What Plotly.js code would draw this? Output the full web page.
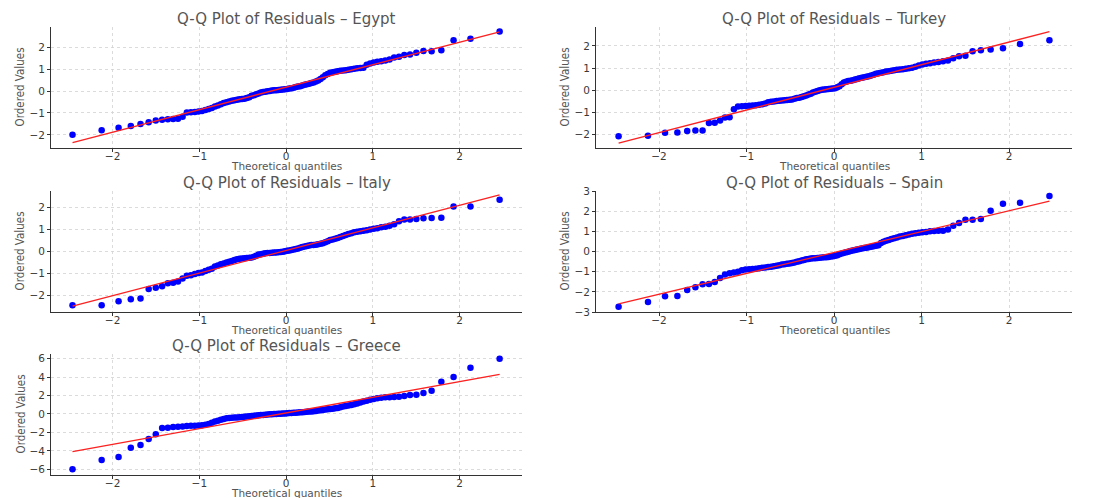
<!DOCTYPE html>
<html>
<head>
<meta charset="utf-8">
<script src="https://cdn.plot.ly/plotly-3.0.1.min.js"></script>
<style>
  html, body { margin: 0; padding: 0; background: #ffffff; }
  #chart { width: 1094px; height: 498px; }
</style>
</head>
<body>
<div id="chart"></div>
<script>
// Theoretical normal quantiles (n = 100), shared by every panel
const theoQ = [
  -2.462, -2.126, -1.931, -1.790, -1.678, -1.584, -1.502, -1.429, -1.363, -1.302,
  -1.246, -1.193, -1.144, -1.097, -1.052, -1.010, -0.969, -0.930, -0.892, -0.856,
  -0.820, -0.786, -0.752, -0.719, -0.687, -0.656, -0.625, -0.595, -0.566, -0.537,
  -0.508, -0.480, -0.452, -0.424, -0.397, -0.370, -0.344, -0.317, -0.291, -0.265,
  -0.240, -0.214, -0.188, -0.163, -0.138, -0.113, -0.088, -0.062, -0.037, -0.012,
   0.012,  0.037,  0.062,  0.088,  0.113,  0.138,  0.163,  0.188,  0.214,  0.240,
   0.265,  0.291,  0.317,  0.344,  0.370,  0.397,  0.424,  0.452,  0.480,  0.508,
   0.537,  0.566,  0.595,  0.625,  0.656,  0.687,  0.719,  0.752,  0.786,  0.820,
   0.856,  0.892,  0.930,  0.969,  1.010,  1.052,  1.097,  1.144,  1.193,  1.246,
   1.302,  1.363,  1.429,  1.502,  1.584,  1.678,  1.790,  1.931,  2.126,  2.462
];

// Ordered residuals per country
const egyptY = [
  -2.00, -1.79, -1.68, -1.60, -1.51, -1.42, -1.35, -1.31, -1.29, -1.28,
  -1.27, -1.18, -0.98, -0.97, -0.96, -0.94, -0.91, -0.87, -0.82, -0.77,
  -0.71, -0.66, -0.60, -0.55, -0.51, -0.48, -0.45, -0.42, -0.40, -0.38,
  -0.37, -0.35, -0.32, -0.28, -0.22, -0.19, -0.15, -0.11, -0.07, -0.05,
  -0.03, -0.01,  0.00,  0.02,  0.03,  0.04,  0.05,  0.06,  0.07,  0.08,
   0.09,  0.11,  0.13,  0.15,  0.18,  0.20,  0.22,  0.25,  0.28,  0.31,
   0.33,  0.36,  0.39,  0.43,  0.48,  0.55,  0.63,  0.72,  0.78,  0.83,
   0.86,  0.88,  0.90,  0.92,  0.93,  0.95,  0.97,  0.99,  1.02,  1.04,
   1.05,  1.06,  1.20,  1.26,  1.30,  1.33,  1.36,  1.39,  1.44,  1.53,
   1.56,  1.64,  1.66,  1.75,  1.82,  1.81,  1.86,  2.31,  2.38,  2.72
];
const turkeyY = [
  -2.09, -2.06, -1.93, -1.92, -1.85, -1.83, -1.83, -1.49, -1.48, -1.38,
  -1.24, -1.23, -0.86, -0.74, -0.73, -0.72, -0.71, -0.70, -0.68, -0.66,
  -0.64, -0.60, -0.55, -0.52, -0.51, -0.49, -0.48, -0.47, -0.46, -0.45,
  -0.44, -0.42, -0.39, -0.36, -0.34, -0.31, -0.28, -0.24, -0.20, -0.16,
  -0.11, -0.07, -0.04,  0.00,  0.02,  0.03,  0.04,  0.05,  0.06,  0.07,
   0.09,  0.13,  0.18,  0.27,  0.35,  0.38,  0.41,  0.43,  0.45,  0.48,
   0.51,  0.54,  0.56,  0.58,  0.61,  0.63,  0.66,  0.70,  0.74,  0.77,
   0.79,  0.81,  0.84,  0.86,  0.88,  0.90,  0.92,  0.93,  0.95,  0.97,
   0.99,  1.02,  1.06,  1.12,  1.16,  1.19,  1.22,  1.25,  1.27,  1.31,
   1.34,  1.45,  1.54,  1.56,  1.76,  1.81,  1.84,  1.90,  2.09,  2.26
];
const italyY = [
  -2.46, -2.46, -2.28, -2.19, -2.16, -1.72, -1.67, -1.60, -1.46, -1.44,
  -1.38, -1.25, -1.12, -1.10, -1.04, -1.00, -0.97, -0.91, -0.85, -0.80,
  -0.70, -0.66, -0.60, -0.56, -0.52, -0.49, -0.45, -0.41, -0.37, -0.35,
  -0.34, -0.33, -0.31, -0.30, -0.29, -0.26, -0.21, -0.16, -0.14, -0.12,
  -0.10, -0.09, -0.09, -0.08, -0.07, -0.06, -0.05, -0.04, -0.03, -0.01,
   0.01,  0.03,  0.05,  0.07,  0.09,  0.12,  0.15,  0.18,  0.21,  0.23,
   0.25,  0.27,  0.28,  0.29,  0.31,  0.33,  0.36,  0.40,  0.45,  0.50,
   0.53,  0.56,  0.59,  0.64,  0.69,  0.73,  0.77,  0.81,  0.85,  0.88,
   0.90,  0.92,  0.95,  0.98,  1.01,  1.04,  1.08,  1.11,  1.15,  1.22,
   1.36,  1.43,  1.44,  1.46,  1.49,  1.50,  1.51,  2.02,  2.03,  2.33
];
const spainY = [
  -2.74, -2.50, -2.22, -2.21, -1.91, -1.77, -1.63, -1.61, -1.51, -1.31,
  -1.14, -1.08, -1.04, -1.00, -0.93, -0.89, -0.88, -0.87, -0.85, -0.83,
  -0.81, -0.79, -0.77, -0.75, -0.73, -0.71, -0.68, -0.65, -0.63, -0.61,
  -0.59, -0.57, -0.54, -0.51, -0.48, -0.45, -0.42, -0.39, -0.37, -0.35,
  -0.34, -0.33, -0.32, -0.31, -0.30, -0.29, -0.28, -0.27, -0.25, -0.23,
  -0.21, -0.18, -0.14, -0.10, -0.07, -0.04, -0.01,  0.02,  0.05,  0.08,
   0.10,  0.13,  0.15,  0.17,  0.19,  0.21,  0.23,  0.26,  0.28,  0.31,
   0.42,  0.48,  0.53,  0.57,  0.62,  0.66,  0.70,  0.74,  0.77,  0.80,
   0.84,  0.88,  0.91,  0.93,  0.95,  0.97,  1.00,  1.02,  1.03,  1.03,
   1.09,  1.28,  1.41,  1.58,  1.58,  1.61,  2.02,  2.37,  2.42,  2.75
];
const greeceY = [
  -5.98, -4.97, -4.65, -3.64, -3.35, -2.70, -2.20, -1.51, -1.48, -1.42,
  -1.38, -1.34, -1.31, -1.28, -1.26, -1.24, -1.21, -1.16, -1.08, -0.96,
  -0.82, -0.74, -0.62, -0.54, -0.47, -0.43, -0.41, -0.39, -0.37, -0.34,
  -0.32, -0.29, -0.26, -0.24, -0.22, -0.19, -0.16, -0.14, -0.12, -0.10,
  -0.08, -0.06, -0.04, -0.03, -0.01,  0.00,  0.02,  0.03,  0.05,  0.06,
   0.08,  0.10,  0.11,  0.13,  0.14,  0.16,  0.18,  0.20,  0.22,  0.24,
   0.26,  0.28,  0.30,  0.33,  0.37,  0.41,  0.44,  0.48,  0.51,  0.54,
   0.58,  0.62,  0.66,  0.72,  0.80,  0.87,  0.92,  0.98,  1.05,  1.13,
   1.25,  1.34,  1.42,  1.54,  1.62,  1.70,  1.77,  1.80,  1.82,  1.84,
   1.86,  1.95,  2.05,  2.09,  2.27,  2.52,  3.50,  4.00,  5.00,  5.98
];

// Fitted reference lines (values at the first and last theoretical quantile)
const lineX = [-2.462, 2.462];
const egyptLine = [-2.35, 2.70];
const turkeyLine = [-2.40, 2.65];
const italyLine = [-2.50, 2.55];
const spainLine = [-2.60, 2.50];
const greeceLine = [-4.07, 4.29];

const countries = ['Egypt', 'Turkey', 'Italy', 'Spain', 'Greece'];
const xTicks = [-2, -1, 0, 1, 2];
const yTicksStd = [-2, -1, 0, 1, 2];
const yTicksSpain = [-3, -2, -1, 0, 1, 2, 3];
const yTicksGreece = [-6, -4, -2, 0, 2, 4, 6];

const W = 1094, H = 498;
const px = v => v / W;
const py = v => 1 - v / H;

const panels = [
  { name: countries[0], y: egyptY,  line: egyptLine,  yt: yTicksStd,    xr: [-2.71, 2.72], yr: [-2.60, 2.92], L: 51,  R: 522,  T: 27,  B: 148 },
  { name: countries[1], y: turkeyY, line: turkeyLine, yt: yTicksStd,    xr: [-2.72, 2.72], yr: [-2.62, 2.86], L: 596, R: 1072, T: 27,  B: 148 },
  { name: countries[2], y: italyY,  line: italyLine,  yt: yTicksStd,    xr: [-2.71, 2.72], yr: [-2.77, 2.73], L: 51,  R: 522,  T: 191, B: 312 },
  { name: countries[3], y: spainY,  line: spainLine,  yt: yTicksSpain,  xr: [-2.72, 2.72], yr: [-3.0, 3.0],   L: 596, R: 1072, T: 191, B: 312 },
  { name: countries[4], y: greeceY, line: greeceLine, yt: yTicksGreece, xr: [-2.71, 2.72], yr: [-6.6, 6.49],  L: 51,  R: 522,  T: 354, B: 475 }
];

const FONT = 'DejaVu Sans, Verdana, sans-serif';
const NARROW = 'Liberation Sans Narrow, DejaVu Sans Condensed, Arial Narrow, sans-serif';

const traces = [];
const layout = {
  width: W, height: H,
  margin: { l: 0, r: 0, t: 0, b: 0 },
  paper_bgcolor: '#ffffff',
  plot_bgcolor: '#ffffff',
  showlegend: false,
  font: { family: FONT, size: 11, color: '#444' },
  annotations: []
};

panels.forEach((p, i) => {
  const n = i + 1;
  const xa = n === 1 ? 'x' : 'x' + n;
  const ya = n === 1 ? 'y' : 'y' + n;
  traces.push({
    type: 'scatter', mode: 'markers', x: theoQ, y: p.y, xaxis: xa, yaxis: ya,
    marker: { color: '#0000ff', size: 6.5, line: { width: 0 } },
    hoverinfo: 'skip'
  });
  traces.push({
    type: 'scatter', mode: 'lines', x: lineX, y: p.line, xaxis: xa, yaxis: ya,
    line: { color: '#ff2020', width: 1.3 },
    hoverinfo: 'skip'
  });
  const axCommon = {
    showline: true, linecolor: '#333', linewidth: 1, mirror: false,
    ticks: 'outside', ticklen: 3, tickwidth: 1, tickcolor: '#333',
    showgrid: true, gridcolor: '#d2d2d2', gridwidth: 0.8, griddash: 'dot',
    zeroline: false, fixedrange: true,
    tickfont: { family: FONT, size: 10.5, color: '#3a3a3a' }
  };
  layout['xaxis' + (n === 1 ? '' : n)] = Object.assign({}, axCommon, {
    domain: [px(p.L), px(p.R)], range: p.xr, anchor: ya,
    tickmode: 'array', tickvals: xTicks, ticklabelstandoff: -5
  });
  layout['yaxis' + (n === 1 ? '' : n)] = Object.assign({}, axCommon, {
    domain: [py(p.B), py(p.T)], range: p.yr, anchor: xa,
    tickmode: 'array', tickvals: p.yt
  });
  // panel title
  layout.annotations.push({
    xref: 'paper', yref: 'paper', x: px((p.L + p.R) / 2), y: py(p.T - 8),
    xanchor: 'center', yanchor: 'middle', showarrow: false, borderpad: 0,
    text: 'Q-Q Plot of Residuals – ' + p.name,
    font: { family: FONT, size: 15, color: '#555' }
  });
  // x-axis title
  layout.annotations.push({
    xref: 'paper', yref: 'paper', x: px((p.L + p.R) / 2), y: py(p.B + 17.5),
    xanchor: 'center', yanchor: 'middle', showarrow: false, borderpad: 0,
    text: 'Theoretical quantiles',
    font: { family: FONT, size: 10.5, color: '#555' }
  });
  // y-axis title
  layout.annotations.push({
    xref: 'paper', yref: 'paper', x: px(p.L - 31), y: py((p.T + p.B) / 2),
    xanchor: 'center', yanchor: 'middle', showarrow: false, borderpad: 0,
    textangle: -90,
    text: 'Ordered Values',
    font: { family: NARROW, size: 11.5, color: '#555' }
  });
});

Plotly.newPlot('chart', traces, layout, { displayModeBar: false, staticPlot: true });
</script>
</body>
</html>
